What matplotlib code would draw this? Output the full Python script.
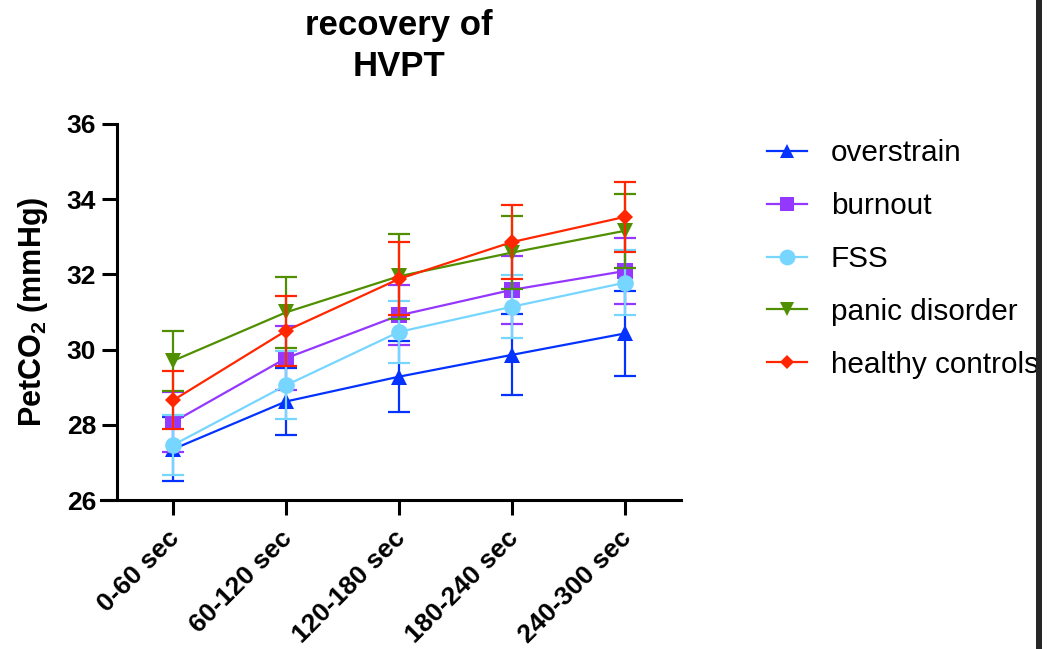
import matplotlib
matplotlib.use("Agg")
import matplotlib.pyplot as plt
from matplotlib.patches import Rectangle
from matplotlib.lines import Line2D
from matplotlib.transforms import ScaledTranslation
import numpy as np

plt.rcParams['font.family'] = ['Liberation Sans', 'DejaVu Sans']
plt.rcParams['mathtext.fontset'] = 'custom'
plt.rcParams['mathtext.rm'] = 'Liberation Sans:bold'
plt.rcParams['mathtext.bf'] = 'Liberation Sans:bold'
plt.rcParams['mathtext.default'] = 'bf'

# Time windows after hyperventilation
categories = ["0-60 sec", "60-120 sec", "120-180 sec", "180-240 sec", "240-300 sec"]

# Mean PetCO2 (mmHg) per group
overstrain = [27.35, 28.62, 29.28, 29.86, 30.43]
burnout = [28.07, 29.77, 30.91, 31.59, 32.09]
fss = [27.46, 29.05, 30.47, 31.14, 31.78]
panic = [29.70, 30.99, 31.95, 32.58, 33.16]
healthy = [28.65, 30.50, 31.88, 32.86, 33.53]

# Standard deviations
overstrain_sd = [0.85, 0.90, 0.95, 1.08, 1.12]
burnout_sd = [0.80, 0.85, 0.80, 0.90, 0.88]
fss_sd = [0.80, 0.90, 0.83, 0.84, 0.86]
panic_sd = [0.80, 0.95, 1.13, 0.97, 0.98]
healthy_sd = [0.77, 0.93, 0.97, 0.98, 0.93]

yticks = [26, 28, 30, 32, 34, 36]

series = [
    ("overstrain", overstrain, overstrain_sd, "#0433FF", "^", 11),
    ("burnout", burnout, burnout_sd, "#9437FF", "s", 11),
    ("FSS", fss, fss_sd, "#76D6FF", "o", 12),
    ("panic disorder", panic, panic_sd, "#4F8F00", "v", 11),
    ("healthy controls", healthy, healthy_sd, "#FF2600", "D", 8),
]

fig = plt.figure(figsize=(10.51, 6.49), dpi=100)
ax = fig.add_axes([101 / 1051, 1 - 500 / 649, 580 / 1051, 376 / 649])

for s in ['top', 'right']:
    ax.spines[s].set_visible(False)
ax.spines['left'].set_position(('data', -0.496))
ax.spines['left'].set_bounds(26, 36)
for s in ['left', 'bottom']:
    ax.spines[s].set_linewidth(2.2)

x = np.arange(len(categories))
handles = []
for i, (name, mean, sd, color, marker, ms) in enumerate(series):
    line, caps, bars = ax.errorbar(x, mean, yerr=sd, color=color, marker=marker,
                                   markersize=ms, linewidth=1.6, elinewidth=1.6,
                                   capsize=8, capthick=1.6, zorder=3 + i)
    line.set_markeredgewidth(0)
    handles.append(Line2D([], [], color=color, marker=marker, markersize=ms * 0.95,
                          markeredgewidth=0, linewidth=1.6, label=name))

ax.set_xlim(-0.637, 4.496)
ax.set_ylim(26, 36)
ax.set_yticks(yticks)
ax.set_xticks(x)
ax.set_xticklabels(categories, rotation=45, ha='right', rotation_mode='anchor',
                   fontsize=19, fontweight='bold')
ax.set_yticklabels([str(t) for t in yticks], fontsize=19, fontweight='bold')
ax.tick_params(axis='both', length=11, width=2.2, direction='out', pad=4)
ax.tick_params(axis='x', pad=8)

# nudge the slanted category labels slightly left
shift = ScaledTranslation(-6 / 100, 0, fig.dpi_scale_trans)
for lbl in ax.get_xticklabels():
    lbl.set_transform(lbl.get_transform() + shift)

ax.set_ylabel(r'PetCO$_2$ (mmHg)', fontsize=22, fontweight='bold')
ax.yaxis.set_label_coords((50 - 101) / 580, 0.5)

fig.text(399 / 1051, 1 - 46 / 649, "recovery of\nHVPT", ha='center', va='center',
         fontsize=25, fontweight='bold', linespacing=1.3)

ax.legend(handles=handles, loc='upper left', bbox_to_anchor=(767 / 1051, 1 - 139 / 649),
          bbox_transform=fig.transFigure, frameon=False, fontsize=21.4,
          handlelength=1.35, handletextpad=0.8, labelspacing=0.84, borderaxespad=0,
          borderpad=0)

# window edge at the right
fig.patches.append(Rectangle((1036 / 1051, 0), 6 / 1051, 1, transform=fig.transFigure,
                             facecolor='#262626', edgecolor='none', zorder=10))

fig.savefig("out.png", dpi=100)
